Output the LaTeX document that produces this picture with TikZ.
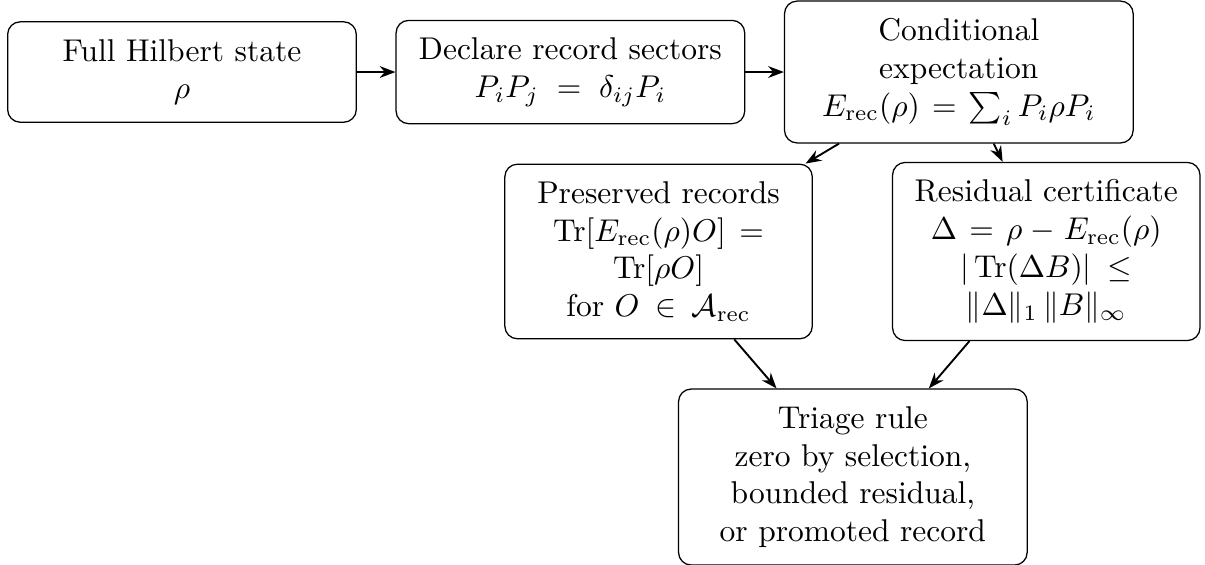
\documentclass[tikz,border=0pt]{standalone}
\usepackage{amsmath}
\usepackage{amssymb}
\usetikzlibrary{arrows.meta,positioning}

\begin{document}
\begin{tikzpicture}[
  box/.style={rectangle, rounded corners=4pt, draw, align=center,
              text width=3.61cm, inner xsep=4pt, inner ysep=5.5pt},
  narrowbox/.style={box, text width=3.15cm},
  arrow/.style={-{Stealth[length=5pt]}, semithick},
  node distance=0.43cm and 0.43cm
]
\useasboundingbox (0,0) rectangle (13.449,-6.306);

%% Top row: state, sectors, conditional expectation
\node[box] (state) at (2.031,-0.804) {Full Hilbert state\\ $\rho$};
\node[box, right=of state] (sectors)
  {Declare record sectors\\ $P_iP_j = \delta_{ij}P_i$};
\node[box, right=of sectors] (condexp)
  {Conditional expectation\\ $E_{\mathrm{rec}}(\rho) = \sum_i P_i\rho P_i$};

\draw[arrow] (state) -- (sectors);
\draw[arrow] (sectors) -- (condexp);

%% Middle row: preserved part and residual
\node[narrowbox, below=0.223cm of condexp.south west, anchor=north east,
      xshift=0.324cm] (preserved)
  {Preserved records\\
   $\operatorname{Tr}[E_{\mathrm{rec}}(\rho)O] = \operatorname{Tr}[\rho O]$\\
   for $O \in \mathcal{A}_{\mathrm{rec}}$};
\node[narrowbox, right=0.882cm of preserved] (residual)
  {Residual certificate\\
   $\Delta = \rho - E_{\mathrm{rec}}(\rho)$\\
   $|\operatorname{Tr}(\Delta B)| \le \|\Delta\|_1\,\|B\|_\infty$};

\draw[arrow] (condexp) -- (preserved);
\draw[arrow] (condexp) -- (residual);

%% Bottom: triage
\node[box, below=0.547cm of preserved.south east, anchor=north,
      xshift=0.446cm] (triage)
  {Triage rule\\ zero by selection,\\ bounded residual,\\ or promoted record};

\draw[arrow] (preserved) -- (triage);
\draw[arrow] (residual) -- (triage);
\end{tikzpicture}
\end{document}
